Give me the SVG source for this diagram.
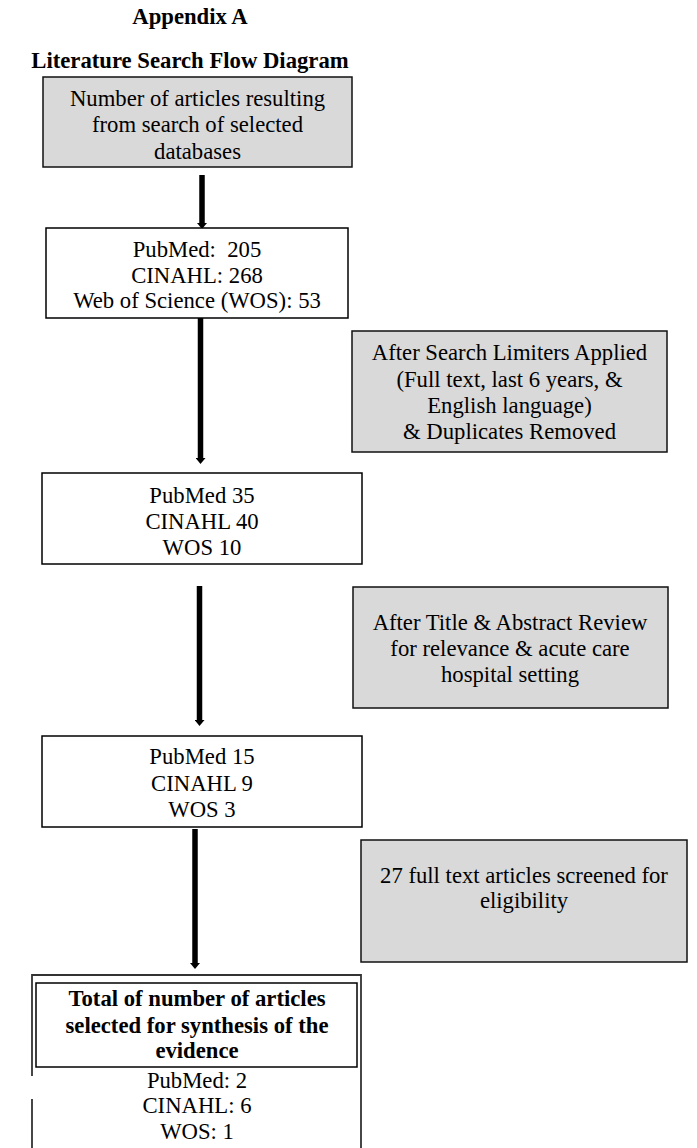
<svg xmlns="http://www.w3.org/2000/svg" width="697" height="1148" viewBox="0 0 697 1148">
<defs>
<marker id="ah" markerUnits="userSpaceOnUse" viewBox="0 0 6 10" markerWidth="6" markerHeight="10" refX="0" refY="5" orient="auto">
<path d="M0,0 L6,5 L0,10 z" fill="#000"/>
</marker>
<style>
text{font-size:22.7px;fill:#000;text-anchor:middle;white-space:pre}
.b{font-weight:bold}
.box{fill:#fff;stroke:#000;stroke-width:1.5}
.gbox{fill:#d9d9d9;stroke:#111;stroke-width:1.5}
.arr{stroke:#000;stroke-width:5.5;fill:none;marker-end:url(#ah)}
</style>
</defs>
<rect width="697" height="1148" fill="#fff"/>
<g font-family="Liberation Serif, Times New Roman, DejaVu Serif, serif">
<g id="title">
<text class="b" x="190" y="24">Appendix A</text>
<text class="b" x="190" y="68">Literature Search Flow Diagram</text>
</g>
<g id="connectors">
<line class="arr" x1="202" y1="175" x2="202" y2="223"/>
<line class="arr" x1="200.5" y1="318" x2="200.5" y2="458"/>
<line class="arr" x1="199.5" y1="586" x2="199.5" y2="720"/>
<line class="arr" x1="195" y1="829" x2="195" y2="963"/>
</g>
<g id="n1">
<rect class="gbox" x="43" y="77" width="309" height="90"/>
<text x="197.5" y="106">Number of articles resulting</text>
<text x="197.5" y="132">from search of selected</text>
<text x="197.5" y="158.5">databases</text>
</g>
<g id="n2">
<rect class="box" x="46" y="228" width="302" height="90"/>
<text x="197" y="257" xml:space="preserve">PubMed:  205</text>
<text x="197" y="283">CINAHL: 268</text>
<text x="197" y="308">Web of Science (WOS): 53</text>
</g>
<g id="n3">
<rect class="gbox" x="352" y="331" width="315" height="121"/>
<text x="509.5" y="360">After Search Limiters Applied</text>
<text x="509.5" y="386.5">(Full text, last 6 years, &amp;</text>
<text x="509.5" y="412.5">English language)</text>
<text x="509.5" y="438.5">&amp; Duplicates Removed</text>
</g>
<g id="n4">
<rect class="box" x="42" y="473" width="320" height="91"/>
<text x="202" y="503">PubMed 35</text>
<text x="202" y="529">CINAHL 40</text>
<text x="202" y="555">WOS 10</text>
</g>
<g id="n5">
<rect class="gbox" x="353" y="587" width="315" height="121"/>
<text x="510" y="630">After Title &amp; Abstract Review</text>
<text x="510" y="656">for relevance &amp; acute care</text>
<text x="510" y="682">hospital setting</text>
</g>
<g id="n6">
<rect class="box" x="42" y="736" width="320" height="91"/>
<text x="202" y="764">PubMed 15</text>
<text x="202" y="791">CINAHL 9</text>
<text x="202" y="817">WOS 3</text>
</g>
<g id="n7">
<rect class="gbox" x="361" y="840" width="326" height="122"/>
<text x="524" y="883">27 full text articles screened for</text>
<text x="524" y="908">eligibility</text>
</g>
<g id="n8">
<path d="M32,1150 V1099 M32,1076 V975 H361 V1150" fill="none" stroke="#333" stroke-width="1.8"/>
<rect class="box" x="36" y="983" width="321" height="84"/>
<text class="b" x="197" y="1006">Total of number of articles</text>
<text class="b" x="197" y="1033">selected for synthesis of the</text>
<text class="b" x="197" y="1058">evidence</text>
<text x="197" y="1088">PubMed: 2</text>
<text x="197" y="1113">CINAHL: 6</text>
<text x="197" y="1139">WOS: 1</text>
</g>
</g>
</svg>
